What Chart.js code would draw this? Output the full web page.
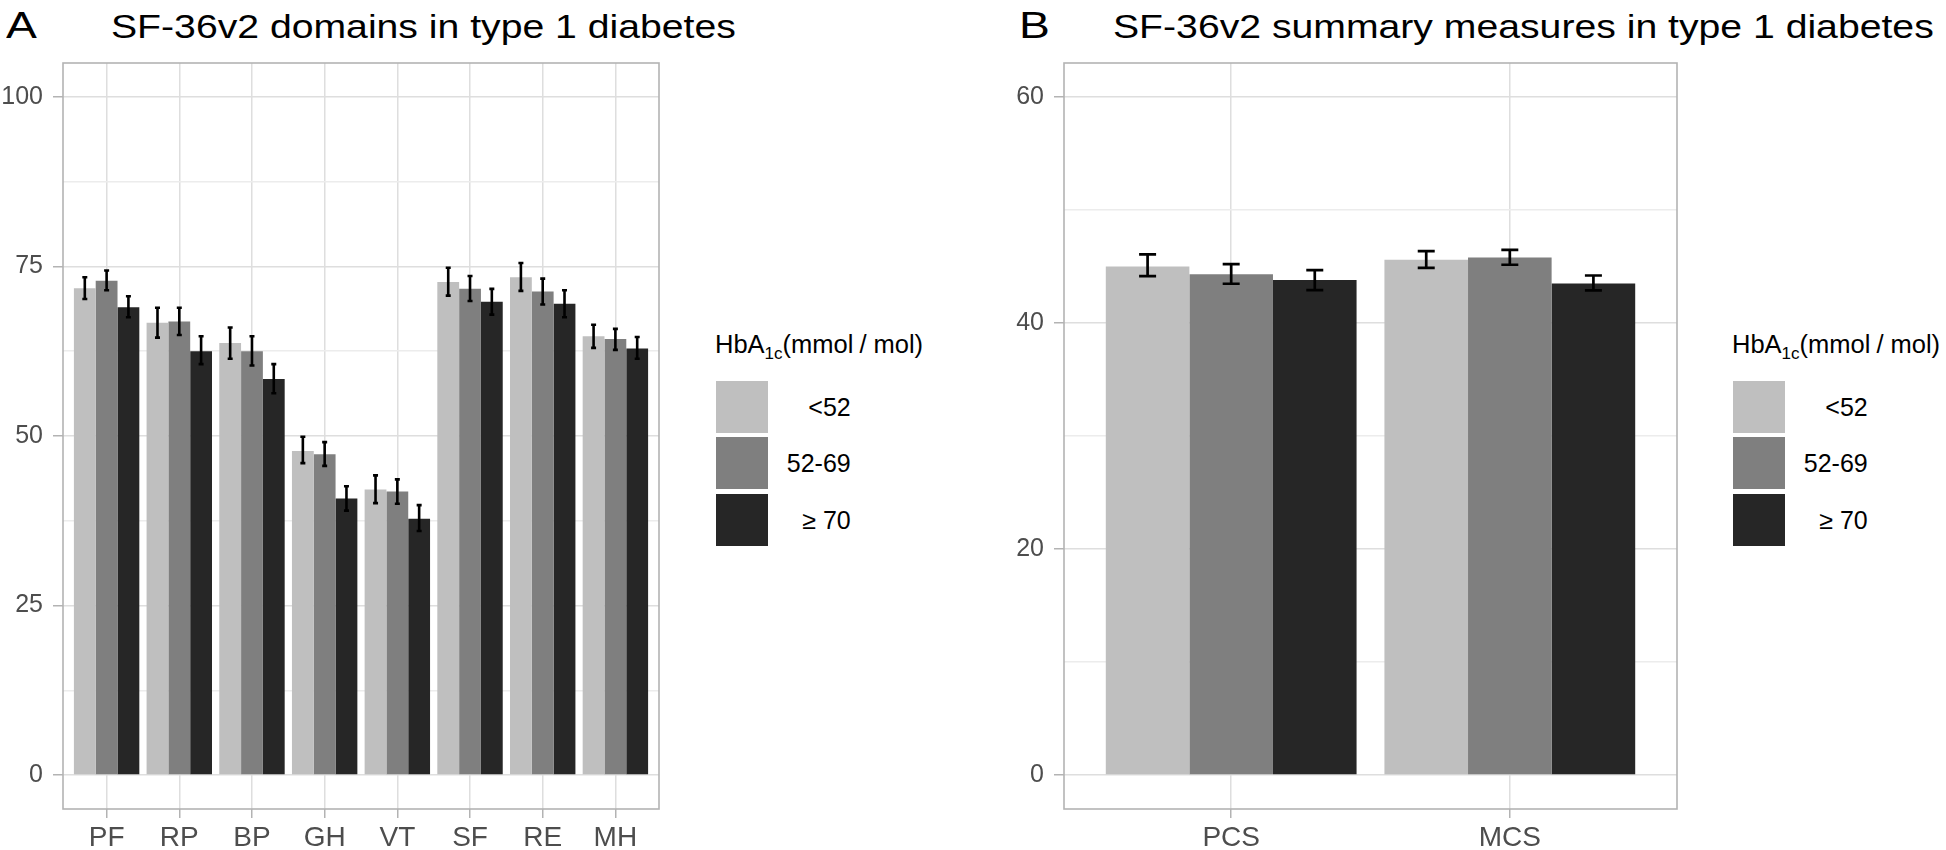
<!DOCTYPE html>
<html>
<head>
<meta charset="utf-8">
<script src="https://cdn.jsdelivr.net/npm/chart.js@4.4.1/dist/chart.umd.min.js"></script>
<style>
html,body{margin:0;padding:0;background:#fff;width:1946px;height:850px;overflow:hidden;font-family:'Liberation Sans',Arial,sans-serif;}
.abs{position:absolute;white-space:nowrap;color:#000;}
.tag{font-size:37px;line-height:37px;transform:scaleX(1.25);transform-origin:0 0;}
.ttl{font-size:34px;line-height:34px;transform:scaleX(1.152);transform-origin:0 0;}
.lt{font-size:25.5px;line-height:25.5px;}
.lt .sub{font-size:17px;position:relative;top:6px;}
.lt .sl{margin:0 7px 0 6px;}
.key{position:absolute;width:52px;height:52px;}
.lab{position:absolute;font-size:25px;line-height:25px;text-align:right;white-space:nowrap;color:#000;}
canvas{position:absolute;top:0;}
</style>
</head>
<body>
<div class="abs tag" style="left:6px;top:7px;">A</div>
<div class="abs ttl" style="left:111px;top:8.5px;">SF-36v2 domains in type 1 diabetes</div>
<div class="abs tag" style="left:1019px;top:7px;">B</div>
<div class="abs ttl" style="left:1113px;top:8.5px;">SF-36v2 summary measures in type 1 diabetes</div>

<canvas id="cA" width="700" height="850" style="left:0px;width:700px;height:850px;"></canvas>
<canvas id="cB" width="700" height="850" style="left:1000px;width:700px;height:850px;"></canvas>

<div id="legA"></div>
<div id="legB"></div>

<script>
// ---------- DATA ----------
const groupLabels = ['<52', '52-69', '\u2265 70'];
const groupColors = ['#bfbfbf', '#7f7f7f', '#262626'];

// Panel A: SF-36v2 domains
const domainCategories = ['PF', 'RP', 'BP', 'GH', 'VT', 'SF', 'RE', 'MH'];
const domainLow  = [71.8, 66.7, 63.7, 47.8, 42.1, 72.7, 73.4, 64.7];   // <52
const domainMid  = [72.9, 66.9, 62.5, 47.3, 41.8, 71.7, 71.3, 64.3];   // 52-69
const domainHigh = [69.0, 62.5, 58.4, 40.8, 37.8, 69.8, 69.5, 62.9];   // >=70
const domainLowErrLo  = [70.2, 64.5, 61.4, 46.0, 40.1, 70.7, 71.4, 63.0];
const domainLowErrHi  = [73.4, 68.9, 66.0, 49.9, 44.2, 74.8, 75.5, 66.4];
const domainMidErrLo  = [71.5, 64.9, 60.4, 45.6, 40.0, 69.9, 69.4, 62.7];
const domainMidErrHi  = [74.4, 68.9, 64.7, 49.1, 43.6, 73.6, 73.2, 65.8];
const domainHighErrLo = [67.5, 60.6, 56.3, 39.0, 36.0, 67.9, 67.5, 61.4];
const domainHighErrHi = [70.6, 64.7, 60.6, 42.6, 39.8, 71.7, 71.5, 64.6];
const domainTicksMajor = [0, 25, 50, 75, 100];
const domainTicksMinor = [12.5, 37.5, 62.5, 87.5];

// Panel B: summary measures
const summaryCategories = ['PCS', 'MCS'];
const summaryLow  = [45.0, 45.6];
const summaryMid  = [44.3, 45.8];
const summaryHigh = [43.8, 43.5];
const summaryLowErrLo  = [44.15, 44.88];
const summaryLowErrHi  = [46.06, 46.35];
const summaryMidErrLo  = [43.47, 45.15];
const summaryMidErrHi  = [45.20, 46.47];
const summaryHighErrLo = [42.90, 42.88];
const summaryHighErrHi = [44.68, 44.20];
const summaryTicksMajor = [0, 20, 40, 60];
const summaryTicksMinor = [10, 30, 50];

// ---------- PLUGINS ----------
const errorBarsPlugin = {
  id: 'errorBars',
  afterDatasetsDraw(chart, args, opts) {
    const ctx = chart.ctx, ys = chart.scales.y;
    chart.data.datasets.forEach((ds, d) => {
      const meta = chart.getDatasetMeta(d);
      meta.data.forEach((el, i) => {
        const x = el.x;
        const yh = ys.getPixelForValue(ds.errHi[i]);
        const yl = ys.getPixelForValue(ds.errLo[i]);
        ctx.save();
        ctx.strokeStyle = '#000';
        ctx.lineWidth = opts.lineWidth;
        ctx.lineCap = 'butt';
        ctx.beginPath();
        ctx.moveTo(x, yh); ctx.lineTo(x, yl);
        ctx.moveTo(x - opts.cap / 2, yh); ctx.lineTo(x + opts.cap / 2, yh);
        ctx.moveTo(x - opts.cap / 2, yl); ctx.lineTo(x + opts.cap / 2, yl);
        ctx.stroke();
        ctx.restore();
      });
    });
  }
};
const panelBorderPlugin = {
  id: 'panelBorder',
  afterDraw(chart) {
    const a = chart.chartArea, ctx = chart.ctx;
    ctx.save();
    ctx.strokeStyle = '#b3b3b3';
    ctx.lineWidth = 1.6;
    ctx.strokeRect(a.left, a.top, a.right - a.left, a.bottom - a.top);
    ctx.restore();
  }
};

const yTickFont = { family: "'Liberation Sans', Arial, sans-serif", size: 25 };
const xTickFont = { family: "'Liberation Sans', Arial, sans-serif", size: 28 };

function makeChart(id, cats, vals, errLo, errHi, yMin, yMax, major, minor, axisW, padRight, capW, lw) {
  const allTicks = major.concat(minor).sort((a, b) => a - b);
  const datasets = vals.map((v, k) => ({
    label: groupLabels[k],
    data: v.map((y, i) => ({ x: i + 1, y: y })),
    backgroundColor: groupColors[k],
    borderWidth: 0,
    categoryPercentage: 0.9,
    barPercentage: 1.0,
    errLo: errLo[k],
    errHi: errHi[k]
  }));
  return new Chart(document.getElementById(id), {
    type: 'bar',
    data: { datasets },
    plugins: [errorBarsPlugin, panelBorderPlugin],
    options: {
      responsive: false,
      animation: false,
      devicePixelRatio: 1,
      layout: { padding: { left: 0, right: padRight, top: 63, bottom: 0 } },
      plugins: {
        legend: { display: false },
        tooltip: { enabled: false },
        errorBars: { lineWidth: lw, cap: capW }
      },
      scales: {
        x: {
          type: 'linear',
          offset: false,
          min: 0.4,
          max: cats.length + 0.6,
          afterBuildTicks: s => { s.ticks = cats.map((c, i) => ({ value: i + 1 })); },
          afterFit: s => { s.height = 41; },
          ticks: {
            callback: v => cats[Math.round(v) - 1] || '',
            font: xTickFont, color: '#4d4d4d', padding: 3,
            autoSkip: false, maxRotation: 0, minRotation: 0
          },
          grid: { offset: false, color: '#dedede', lineWidth: 1.5, tickLength: 9, tickColor: '#b3b3b3', tickWidth: 1.5 },
          border: { display: false }
        },
        y: {
          type: 'linear',
          min: yMin,
          max: yMax,
          afterBuildTicks: s => { s.ticks = allTicks.map(v => ({ value: v })); },
          afterFit: s => { s.width = axisW; },
          ticks: {
            callback: v => major.includes(v) ? String(v) : '',
            font: yTickFont, color: '#4d4d4d', padding: 10, autoSkip: false
          },
          grid: {
            color: c => (c.tick && major.includes(c.tick.value)) ? '#dedede' : '#ececec',
            lineWidth: 1.5,
            tickLength: 10,
            tickColor: c => (c.tick && major.includes(c.tick.value)) ? '#b3b3b3' : 'rgba(0,0,0,0)',
            tickWidth: 1.5
          },
          border: { display: false }
        }
      }
    }
  });
}

makeChart('cA', domainCategories,
  [domainLow, domainMid, domainHigh],
  [domainLowErrLo, domainMidErrLo, domainHighErrLo],
  [domainLowErrHi, domainMidErrHi, domainHighErrHi],
  -5, 105, domainTicksMajor, domainTicksMinor, 63, 41, 5, 2.6);

makeChart('cB', summaryCategories,
  [summaryLow, summaryMid, summaryHigh],
  [summaryLowErrLo, summaryMidErrLo, summaryHighErrLo],
  [summaryLowErrHi, summaryMidErrHi, summaryHighErrHi],
  -3, 63, summaryTicksMajor, summaryTicksMinor, 64, 23, 17, 2.7);

// ---------- LEGENDS (HTML) ----------
function buildLegend(el, titleLeft, keyLeft, labelRight) {
  let html = '<div class="abs lt" style="left:' + titleLeft + 'px;top:331.5px;">HbA<span class="sub">1c</span>(mmol<span class="sl">/</span>mol)</div>';
  const tops = [380.7, 437.2, 493.7];
  groupLabels.forEach((lab, k) => {
    html += '<div class="key" style="left:' + keyLeft + 'px;top:' + tops[k] + 'px;background:' + groupColors[k] + ';"></div>';
    html += '<div class="lab" style="right:' + (1946 - labelRight) + 'px;top:' + (tops[k] + 26 - 12.2) + 'px;">' + lab.replace('<', '&lt;') + '</div>';
  });
  el.innerHTML = html;
}
buildLegend(document.getElementById('legA'), 715, 716, 850.7);
buildLegend(document.getElementById('legB'), 1732, 1733.3, 1867.7);
</script>
</body>
</html>
